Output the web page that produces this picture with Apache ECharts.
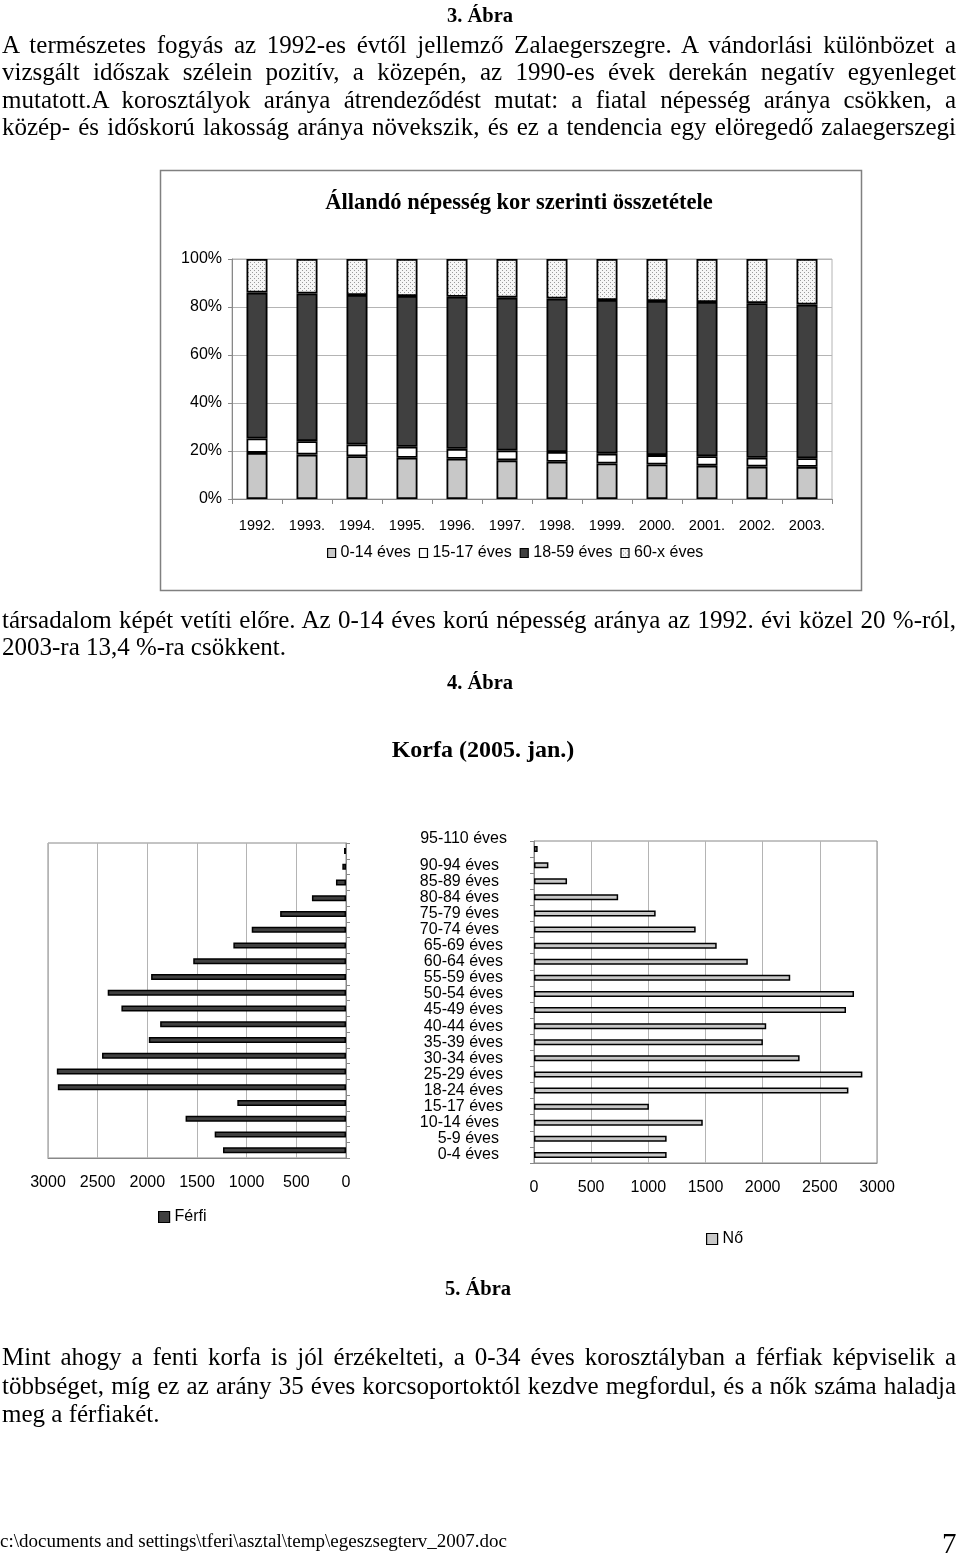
<!DOCTYPE html>
<html>
<head>
<meta charset="utf-8">
<script src="https://cdn.jsdelivr.net/npm/echarts@6/dist/echarts.min.js"></script>
<style>
  html, body { margin:0; padding:0; background:#fff; }
  #page { position:relative; width:960px; height:1558px; overflow:hidden; }
  #chart { position:absolute; left:0; top:0; width:960px; height:1558px; }
  .t { position:absolute; font-family:'Liberation Serif','Times New Roman',serif; color:#000; white-space:nowrap; z-index:2; }
  .j { left:2px; width:954px; font-size:25px; height:28px; line-height:28px; text-align:justify; text-align-last:justify; }
  .l { left:2px; font-size:25px; height:28px; line-height:28px; }
  .h { font-weight:bold; font-size:20.5px; height:24px; line-height:24px; text-align:center; width:200px; }
</style>
</head>
<body>
<div id="page">
  <div id="chart"></div>
  <div class="t h" style="left:380px;top:3px;">3. Ábra</div>
  <div class="t j" style="top:31px;">A természetes fogyás az 1992-es évtől jellemző Zalaegerszegre. A vándorlási különbözet a</div>
  <div class="t j" style="top:58px;">vizsgált időszak szélein pozitív, a közepén, az 1990-es évek derekán negatív egyenleget</div>
  <div class="t j" style="top:86px;">mutatott.A korosztályok aránya átrendeződést mutat: a fiatal népesség aránya csökken, a</div>
  <div class="t j" style="top:113px;">közép- és időskorú lakosság aránya növekszik, és ez a tendencia egy elöregedő zalaegerszegi</div>
  <div class="t j" style="top:606px;">társadalom képét vetíti előre. Az 0-14 éves korú népesség aránya az 1992. évi közel 20 %-ról,</div>
  <div class="t l" style="top:633px;">2003-ra 13,4 %-ra csökkent.</div>
  <div class="t h" style="left:380px;top:670px;">4. Ábra</div>
  <div class="t h" style="left:378px;top:1276px;">5. Ábra</div>
  <div class="t j" style="top:1343px;">Mint ahogy a fenti korfa is jól érzékelteti, a 0-34 éves korosztályban a férfiak képviselik a</div>
  <div class="t j" style="top:1372px;">többséget, míg ez az arány 35 éves korcsoportoktól kezdve megfordul, és a nők száma haladja</div>
  <div class="t l" style="top:1400px;">meg a férfiakét.</div>
  <div class="t" style="left:0px;top:1529px;font-size:19px;line-height:24px;">c:\documents and settings\tferi\asztal\temp\egeszsegterv_2007.doc</div>
  <div class="t" style="left:942px;top:1526px;font-size:29px;line-height:34px;">7</div>
</div>
<script>
// ---- Chart 1: Állandó népesség kor szerinti összetétele (%) ----
const years = ['1992.', '1993.', '1994.', '1995.', '1996.', '1997.', '1998.', '1999.', '2000.', '2001.', '2002.', '2003.'];
const share0to14  = [19.2, 18.5, 17.8, 17.2, 16.8, 16.1, 15.5, 14.8, 14.4, 13.9, 13.5, 13.4];
const share15to17 = [6.0, 5.6, 4.9, 4.6, 4.1, 4.1, 4.1, 4.1, 3.9, 3.9, 3.7, 3.6];
const share18to59 = [60.8, 61.5, 62.3, 62.8, 63.4, 63.7, 63.9, 64.0, 64.2, 64.3, 64.4, 64.0];
const share60plus = [14.0, 14.4, 15.0, 15.4, 15.7, 16.1, 16.5, 17.1, 17.5, 17.9, 18.4, 19.0];
const shareNames = ['0-14 éves', '15-17 éves', '18-59 éves', '60-x éves'];
const percentTicks = [0, 20, 40, 60, 80, 100];

// ---- Chart 2: Korfa (2005. jan.) ----
const ageGroups = ['0-4 éves', '5-9 éves', '10-14 éves', '15-17 éves', '18-24 éves', '25-29 éves', '30-34 éves',
  '35-39 éves', '40-44 éves', '45-49 éves', '50-54 éves', '55-59 éves', '60-64 éves', '65-69 éves',
  '70-74 éves', '75-79 éves', '80-84 éves', '85-89 éves', '90-94 éves', '95-110 éves'];
const male   = [1238, 1322, 1615, 1094, 2901, 2911, 2456, 1985, 1871, 2261, 2399, 1962, 1538, 1134, 949, 663, 343, 101, 37, 20];
const female = [1160, 1160, 1476, 1005, 2750, 2872, 2323, 2002, 2031, 2729, 2799, 2241, 1870, 1598, 1414, 1064, 736, 289, 126, 32];
const countTicks = [0, 500, 1000, 1500, 2000, 2500, 3000];

// dotted pattern for 60-x
function dotPattern() {
  const c = document.createElement('canvas');
  c.width = 4; c.height = 4;
  const g = c.getContext('2d');
  g.fillStyle = '#f6f6f6'; g.fillRect(0, 0, 4, 4);
  g.fillStyle = '#9a9a9a';
  g.fillRect(0, 0, 1, 1); g.fillRect(2, 2, 1, 1);
  return { image: c, repeat: 'repeat' };
}

const SANS = "'Liberation Sans', Arial, sans-serif";
const SERIF = "'Liberation Serif', 'Times New Roman', serif";
const gridCol = '#b4b4b4', axisCol = '#888';

// label offsets for the age axis (visual alignment as in source)
function ageLabelItem(name, i) {
  let ts = { padding: [0, 4, 0, 0] };
  if ([0, 1, 2, 14, 15, 16, 17, 18].indexOf(i) >= 0) ts = { padding: [0, 8, 0, 0] };
  if (i === ageGroups.length - 1) ts = { verticalAlign: 'bottom', padding: [0, 0, 2, 0] };
  return { value: name, textStyle: ts };
}

const pattern = dotPattern();
const segColors = ['#c8c8c8', '#ffffff', '#404040', pattern];
const segData = [share0to14, share15to17, share18to59, share60plus];

const chart = echarts.init(document.getElementById('chart'), null, { renderer: 'canvas' });
const plain = v => String(v);
const option = {
  animation: false,
  title: [
    { text: 'Állandó népesség kor szerinti összetétele', left: 514, top: 187, textAlign: 'center',
      textStyle: { fontFamily: SERIF, fontWeight: 'bold', fontSize: 22.5, color: '#000' } },
    { text: 'Korfa (2005. jan.)', left: 478, top: 734, textAlign: 'center',
      textStyle: { fontFamily: SERIF, fontWeight: 'bold', fontSize: 24, color: '#000' } }
  ],
  graphic: [
    { type: 'rect', shape: { x: 160.5, y: 170.5, width: 701, height: 420 },
      style: { fill: 'none', stroke: '#808080', lineWidth: 1.5 }, silent: true }
  ],
  legend: [
    { data: shareNames, left: 322, top: 540, icon: 'rect', itemWidth: 8, itemHeight: 9, itemGap: 8,
      textStyle: { fontFamily: SANS, fontSize: 16, color: '#000' },
      itemStyle: { borderColor: '#000', borderWidth: 1.2 } },
    { data: ['Férfi'], left: 153, top: 1204, icon: 'rect', itemWidth: 11, itemHeight: 11,
      textStyle: { fontFamily: SANS, fontSize: 16, color: '#000' },
      itemStyle: { borderColor: '#000', borderWidth: 1.2 } },
    { data: ['Nő'], left: 701, top: 1226, icon: 'rect', itemWidth: 11, itemHeight: 11,
      textStyle: { fontFamily: SANS, fontSize: 16, color: '#000' },
      itemStyle: { borderColor: '#000', borderWidth: 1.2 } }
  ],
  grid: [
    { left: 232, top: 259, width: 600, height: 240, show: true, borderColor: gridCol, borderWidth: 1 },
    { left: 48, top: 843, width: 298, height: 315, show: true, borderColor: axisCol, borderWidth: 1 },
    { left: 534, top: 841, width: 343, height: 322, show: true, borderColor: axisCol, borderWidth: 1 }
  ],
  xAxis: [
    { type: 'category', gridIndex: 0, data: years,
      axisLine: { lineStyle: { color: axisCol } },
      axisTick: { show: true, length: 5, lineStyle: { color: axisCol } },
      axisLabel: { margin: 19, fontFamily: SANS, fontSize: 14.5, color: '#000' } },
    { type: 'value', gridIndex: 1, inverse: true, min: 0, max: 3000, interval: 500,
      axisLine: { show: true, lineStyle: { color: axisCol } },
      axisTick: { show: false },
      splitLine: { lineStyle: { color: gridCol } },
      axisLabel: { margin: 17, formatter: plain, fontFamily: SANS, fontSize: 16, color: '#000' } },
    { type: 'value', gridIndex: 2, min: 0, max: 3000, interval: 500,
      axisLine: { show: true, lineStyle: { color: axisCol } },
      axisTick: { show: false },
      splitLine: { lineStyle: { color: gridCol } },
      axisLabel: { margin: 17, formatter: plain, fontFamily: SANS, fontSize: 16, color: '#000' } }
  ],
  yAxis: [
    { type: 'value', gridIndex: 0, min: 0, max: 100, interval: 20,
      axisLine: { show: true, lineStyle: { color: axisCol } },
      axisTick: { show: true, length: 4, lineStyle: { color: axisCol } },
      splitLine: { lineStyle: { color: gridCol } },
      axisLabel: { margin: 10, formatter: '{value}%', fontFamily: SANS, fontSize: 16, color: '#000' } },
    { type: 'category', gridIndex: 1, position: 'right', data: ageGroups,
      axisLine: { show: true, lineStyle: { color: axisCol } },
      axisTick: { show: true, length: 4, lineStyle: { color: axisCol } },
      axisLabel: { show: false } },
    { type: 'category', gridIndex: 2, position: 'left', data: ageGroups.map(ageLabelItem),
      axisLine: { show: true, lineStyle: { color: axisCol } },
      axisTick: { show: true, length: 4, lineStyle: { color: axisCol } },
      axisLabel: { show: true, margin: 27, fontFamily: SANS, fontSize: 16, color: '#000', interval: 0 } }
  ],
  series: shareNames.map((n, k) => ({
    name: n, type: 'bar', stack: 'share', xAxisIndex: 0, yAxisIndex: 0,
    data: segData[k], barWidth: 21,
    itemStyle: { color: segColors[k], borderColor: '#000', borderWidth: 1.8 },
    emphasis: { disabled: true }
  })).concat([
    { name: 'Férfi', type: 'bar', xAxisIndex: 1, yAxisIndex: 1, data: male, barWidth: 6,
      itemStyle: { color: '#404040', borderColor: '#000', borderWidth: 1.5 }, emphasis: { disabled: true } },
    { name: 'Nő', type: 'bar', xAxisIndex: 2, yAxisIndex: 2, data: female, barWidth: 6,
      itemStyle: { color: '#c8c8c8', borderColor: '#000', borderWidth: 1.5 }, emphasis: { disabled: true } }
  ])
};
chart.setOption(option);
</script>
</body>
</html>
